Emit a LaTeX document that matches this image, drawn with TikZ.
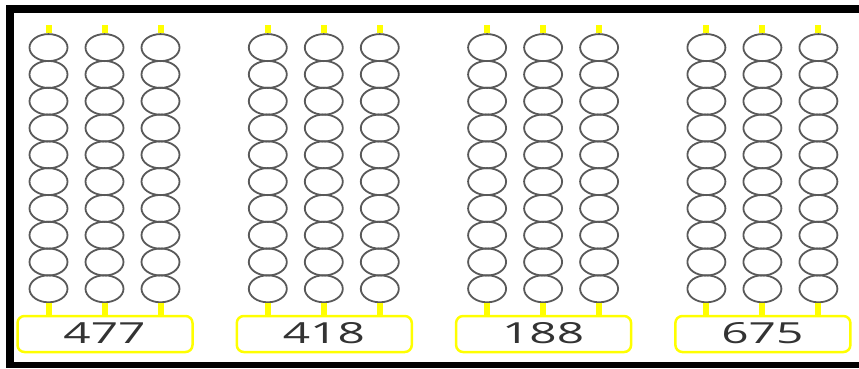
\documentclass[tikz,border=0pt]{standalone}
\usepackage{fontspec}
\setmainfont{Open Sans}
\usetikzlibrary{shapes.geometric}
\definecolor{yel}{HTML}{FFFF00}
\definecolor{beadgray}{HTML}{595959}
\definecolor{txtgray}{HTML}{333333}
\begin{document}
\begin{tikzpicture}[x=1pt,y=-1pt,
  bead/.style={ellipse,draw=beadgray,line width=1.8pt,minimum width=38pt,minimum height=27pt,inner sep=0pt},
  stub/.style={draw=yel,line width=6pt},
  numbox/.style={draw=yel,line width=2.5pt,rounded corners=7pt,minimum width=175pt,minimum height=36pt,inner sep=0pt},
  numtext/.style={text=txtgray,inner sep=0pt,font=\fontsize{29}{30}\selectfont},
  frame/.style={fill=black}]
\useasboundingbox (0,0) rectangle (859,368);
\fill[white] (0,0) rectangle (859,368);
\fill[frame] (6,5) rectangle (859,13);
\fill[frame] (6,5) rectangle (14,368);
\fill[frame] (6,362) rectangle (859,368);
\foreach \g/\num in {0/477,1/418,2/188,3/675}{
  \pgfmathsetmacro\gx{48.5+219.3*\g}
  \foreach \k in {0,1,2}{
    \pgfmathsetmacro\cx{\gx+56*\k}
    \foreach \r in {1,...,10}{
      \node[bead] (b\g-\k-\r) at (\cx,{47.6+26.8*(\r-1)}) {};
    }
    \coordinate (t\g-\k) at (\cx,25);
    \draw[stub] (t\g-\k) -- (b\g-\k-1.north);
  }
  \node[numbox] (box\g) at (\gx+56.5,334) {};
  \node[numtext] (num\g) at (\gx+56,333) {\scalebox{1.65}[1]{\num}};
  \foreach \k in {0,1,2}{
    \draw[stub] (b\g-\k-10.south) -- (b\g-\k-10.south |- box\g.north);
  }
}
\end{tikzpicture}
\end{document}
